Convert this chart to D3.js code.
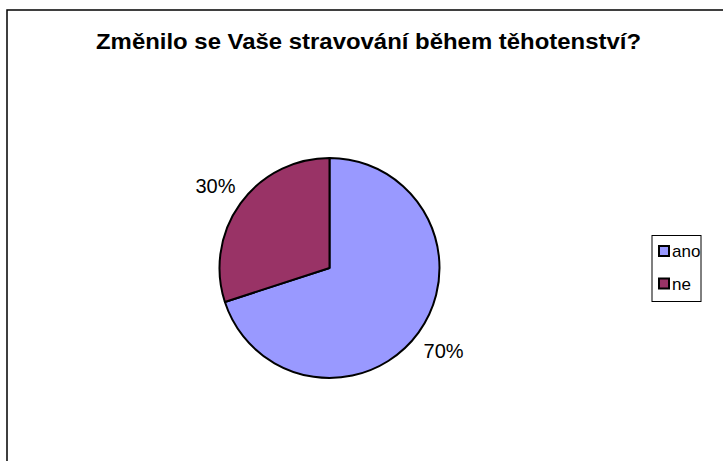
<!DOCTYPE html>
<html>
<head>
<meta charset="utf-8">
<script src="https://cdn.jsdelivr.net/npm/d3@7"></script>
<style>
  html, body { margin: 0; padding: 0; background: #fff; }
  svg { display: block; }
</style>
</head>
<body>
<svg id="chart" width="723" height="461"></svg>
<script>
// Survey answers: did your diet change during pregnancy?
const categories = ["ano", "ne"];
const values = [70, 30];
const colors = ["#9999FF", "#993366"];
const title = "Změnilo se Vaše stravování během těhotenství?";

const svg = d3.select("#chart");
const W = 723, H = 461;
const font = "Liberation Sans, Arial, sans-serif";

// Chart frame (extends past the right and bottom edges)
svg.append("rect")
  .attr("x", 7).attr("y", 10)
  .attr("width", W + 20).attr("height", H + 20)
  .attr("fill", "#fff")
  .attr("stroke", "#000").attr("stroke-width", 1.5);

// Title
svg.append("text")
  .attr("x", 368.5).attr("y", 48.5)
  .attr("text-anchor", "middle")
  .attr("font-family", font)
  .attr("font-weight", "bold")
  .attr("font-size", 22)
  .attr("textLength", 545)
  .attr("lengthAdjust", "spacingAndGlyphs")
  .attr("fill", "#000")
  .text(title);

// Pie
const cx = 329.5, cy = 268, r = 110;
const data = categories.map((c, i) => ({ cat: c, value: values[i], color: colors[i] }));
const pie = d3.pie().value(d => d.value).sort(null);
const arcs = pie(data);
const arc = d3.arc().innerRadius(0).outerRadius(r);
const labelArc = d3.arc().innerRadius(141).outerRadius(141);
const total = d3.sum(values);

const g = svg.append("g").attr("transform", `translate(${cx},${cy})`);
g.selectAll("path.slice")
  .data(arcs)
  .join("path")
  .attr("class", "slice")
  .attr("d", arc)
  .attr("fill", d => d.data.color)
  .attr("stroke", "#000")
  .attr("stroke-width", 2)
  .attr("stroke-linejoin", "round");

g.selectAll("text.pct")
  .data(arcs)
  .join("text")
  .attr("class", "pct")
  .attr("transform", d => `translate(${labelArc.centroid(d)})`)
  .attr("text-anchor", "middle")
  .attr("dy", "0.38em")
  .attr("font-family", font)
  .attr("font-size", 20)
  .attr("fill", "#000")
  .text(d => Math.round(d.data.value / total * 100) + "%");

// Legend
const legend = svg.append("g");
legend.append("rect")
  .attr("x", 652).attr("y", 235.5)
  .attr("width", 49).attr("height", 66)
  .attr("fill", "#fff")
  .attr("stroke", "#000").attr("stroke-width", 1);

const item = legend.selectAll("g.item")
  .data(data)
  .join("g")
  .attr("class", "item")
  .attr("transform", (d, i) => `translate(659,${246 + i * 32.5})`);
item.append("rect")
  .attr("width", 10).attr("height", 10)
  .attr("fill", d => d.color)
  .attr("stroke", "#000").attr("stroke-width", 2);
item.append("text")
  .attr("x", 13).attr("y", 11)
  .attr("font-family", font)
  .attr("font-size", 17)
  .attr("fill", "#000")
  .text(d => d.cat);
</script>
</body>
</html>
